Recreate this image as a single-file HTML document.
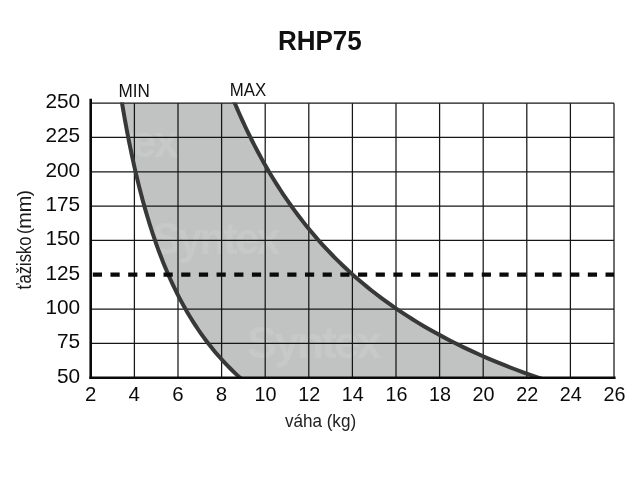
<!DOCTYPE html>
<html><head><meta charset="utf-8"><title>RHP75</title>
<style>
html,body{margin:0;padding:0;background:#fff;}
body{width:640px;height:480px;overflow:hidden;font-family:"Liberation Sans",sans-serif;}
svg{display:block;font-family:"Liberation Sans",sans-serif;will-change:transform;}
</style></head><body>
<svg width="640" height="480" viewBox="0 0 640 480">
<rect width="640" height="480" fill="#ffffff"/>
<defs><clipPath id="cf"><path d="M122.04,103.15 L122.62,106.58 L123.20,110.02 L123.80,113.45 L124.40,116.88 L125.02,120.32 L125.64,123.75 L126.28,127.18 L126.92,130.62 L127.57,134.05 L128.24,137.48 L128.92,140.91 L129.61,144.35 L130.31,147.78 L131.02,151.21 L131.74,154.65 L132.48,158.08 L133.23,161.51 L133.99,164.95 L134.77,168.38 L135.56,171.81 L136.36,175.25 L137.18,178.68 L138.02,182.11 L138.87,185.55 L139.74,188.98 L140.62,192.41 L141.52,195.84 L142.44,199.28 L143.37,202.71 L144.33,206.14 L145.30,209.58 L146.30,213.01 L147.31,216.44 L148.35,219.88 L149.40,223.31 L150.48,226.74 L151.58,230.18 L152.71,233.61 L153.86,237.04 L155.03,240.47 L156.24,243.91 L157.46,247.34 L158.72,250.77 L160.01,254.21 L161.32,257.64 L162.67,261.07 L164.05,264.51 L165.46,267.94 L166.91,271.37 L168.39,274.81 L169.91,278.24 L171.47,281.67 L173.07,285.11 L174.71,288.54 L176.39,291.97 L178.12,295.40 L179.90,298.84 L181.72,302.27 L183.60,305.70 L185.52,309.14 L187.51,312.57 L189.55,316.00 L191.65,319.44 L193.81,322.87 L196.04,326.30 L198.34,329.74 L200.72,333.17 L203.16,336.60 L205.69,340.04 L208.30,343.47 L210.99,346.90 L213.78,350.33 L216.67,353.77 L219.66,357.20 L222.75,360.63 L225.96,364.07 L229.28,367.50 L232.74,370.93 L236.32,374.37 L240.05,377.80 L538.52,377.80 L528.77,374.37 L519.40,370.93 L510.39,367.50 L501.72,364.07 L493.37,360.63 L485.32,357.20 L477.55,353.77 L470.05,350.33 L462.81,346.90 L455.82,343.47 L449.05,340.04 L442.51,336.60 L436.17,333.17 L430.04,329.74 L424.10,326.30 L418.33,322.87 L412.74,319.44 L407.32,316.00 L402.06,312.57 L396.94,309.14 L391.98,305.70 L387.15,302.27 L382.45,298.84 L377.89,295.40 L373.44,291.97 L369.12,288.54 L364.90,285.11 L360.80,281.67 L356.80,278.24 L352.90,274.81 L349.10,271.37 L345.39,267.94 L341.77,264.51 L338.24,261.07 L334.79,257.64 L331.42,254.21 L328.14,250.77 L324.92,247.34 L321.78,243.91 L318.71,240.47 L315.71,237.04 L312.77,233.61 L309.89,230.18 L307.08,226.74 L304.33,223.31 L301.63,219.88 L299.00,216.44 L296.41,213.01 L293.88,209.58 L291.40,206.14 L288.96,202.71 L286.58,199.28 L284.24,195.84 L281.95,192.41 L279.70,188.98 L277.50,185.55 L275.33,182.11 L273.21,178.68 L271.12,175.25 L269.08,171.81 L267.07,168.38 L265.09,164.95 L263.16,161.51 L261.25,158.08 L259.38,154.65 L257.54,151.21 L255.73,147.78 L253.96,144.35 L252.21,140.91 L250.50,137.48 L248.81,134.05 L247.15,130.62 L245.51,127.18 L243.91,123.75 L242.32,120.32 L240.77,116.88 L239.24,113.45 L237.73,110.02 L236.25,106.58 L234.79,103.15 Z"/></clipPath><clipPath id="cr"><rect x="85" y="102.5" width="540" height="276.5"/></clipPath></defs>
<path d="M122.04,103.15 L122.62,106.58 L123.20,110.02 L123.80,113.45 L124.40,116.88 L125.02,120.32 L125.64,123.75 L126.28,127.18 L126.92,130.62 L127.57,134.05 L128.24,137.48 L128.92,140.91 L129.61,144.35 L130.31,147.78 L131.02,151.21 L131.74,154.65 L132.48,158.08 L133.23,161.51 L133.99,164.95 L134.77,168.38 L135.56,171.81 L136.36,175.25 L137.18,178.68 L138.02,182.11 L138.87,185.55 L139.74,188.98 L140.62,192.41 L141.52,195.84 L142.44,199.28 L143.37,202.71 L144.33,206.14 L145.30,209.58 L146.30,213.01 L147.31,216.44 L148.35,219.88 L149.40,223.31 L150.48,226.74 L151.58,230.18 L152.71,233.61 L153.86,237.04 L155.03,240.47 L156.24,243.91 L157.46,247.34 L158.72,250.77 L160.01,254.21 L161.32,257.64 L162.67,261.07 L164.05,264.51 L165.46,267.94 L166.91,271.37 L168.39,274.81 L169.91,278.24 L171.47,281.67 L173.07,285.11 L174.71,288.54 L176.39,291.97 L178.12,295.40 L179.90,298.84 L181.72,302.27 L183.60,305.70 L185.52,309.14 L187.51,312.57 L189.55,316.00 L191.65,319.44 L193.81,322.87 L196.04,326.30 L198.34,329.74 L200.72,333.17 L203.16,336.60 L205.69,340.04 L208.30,343.47 L210.99,346.90 L213.78,350.33 L216.67,353.77 L219.66,357.20 L222.75,360.63 L225.96,364.07 L229.28,367.50 L232.74,370.93 L236.32,374.37 L240.05,377.80 L538.52,377.80 L528.77,374.37 L519.40,370.93 L510.39,367.50 L501.72,364.07 L493.37,360.63 L485.32,357.20 L477.55,353.77 L470.05,350.33 L462.81,346.90 L455.82,343.47 L449.05,340.04 L442.51,336.60 L436.17,333.17 L430.04,329.74 L424.10,326.30 L418.33,322.87 L412.74,319.44 L407.32,316.00 L402.06,312.57 L396.94,309.14 L391.98,305.70 L387.15,302.27 L382.45,298.84 L377.89,295.40 L373.44,291.97 L369.12,288.54 L364.90,285.11 L360.80,281.67 L356.80,278.24 L352.90,274.81 L349.10,271.37 L345.39,267.94 L341.77,264.51 L338.24,261.07 L334.79,257.64 L331.42,254.21 L328.14,250.77 L324.92,247.34 L321.78,243.91 L318.71,240.47 L315.71,237.04 L312.77,233.61 L309.89,230.18 L307.08,226.74 L304.33,223.31 L301.63,219.88 L299.00,216.44 L296.41,213.01 L293.88,209.58 L291.40,206.14 L288.96,202.71 L286.58,199.28 L284.24,195.84 L281.95,192.41 L279.70,188.98 L277.50,185.55 L275.33,182.11 L273.21,178.68 L271.12,175.25 L269.08,171.81 L267.07,168.38 L265.09,164.95 L263.16,161.51 L261.25,158.08 L259.38,154.65 L257.54,151.21 L255.73,147.78 L253.96,144.35 L252.21,140.91 L250.50,137.48 L248.81,134.05 L247.15,130.62 L245.51,127.18 L243.91,123.75 L242.32,120.32 L240.77,116.88 L239.24,113.45 L237.73,110.02 L236.25,106.58 L234.79,103.15 Z" fill="#c0c3c2"/>
<g clip-path="url(#cf)" font-weight="bold" fill="#c7c9c9" font-size="44" letter-spacing="-2.5">
<text x="152" y="254" textLength="126" lengthAdjust="spacingAndGlyphs">Syntex</text>
<text x="247" y="358" textLength="132" lengthAdjust="spacingAndGlyphs">Syntex</text>
<text x="46" y="157" textLength="130" lengthAdjust="spacingAndGlyphs">Syntex</text>
</g>
<g stroke="#161616" stroke-width="1.25" fill="none"><line x1="134.40" y1="103.15" x2="134.40" y2="377.80"/><line x1="178.00" y1="103.15" x2="178.00" y2="377.80"/><line x1="221.60" y1="103.15" x2="221.60" y2="377.80"/><line x1="265.20" y1="103.15" x2="265.20" y2="377.80"/><line x1="308.80" y1="103.15" x2="308.80" y2="377.80"/><line x1="352.40" y1="103.15" x2="352.40" y2="377.80"/><line x1="396.00" y1="103.15" x2="396.00" y2="377.80"/><line x1="439.60" y1="103.15" x2="439.60" y2="377.80"/><line x1="483.20" y1="103.15" x2="483.20" y2="377.80"/><line x1="526.80" y1="103.15" x2="526.80" y2="377.80"/><line x1="570.40" y1="103.15" x2="570.40" y2="377.80"/><line x1="614.00" y1="103.15" x2="614.00" y2="377.80"/><line x1="90.80" y1="103.15" x2="614.00" y2="103.15"/><line x1="90.80" y1="137.48" x2="614.00" y2="137.48"/><line x1="90.80" y1="171.81" x2="614.00" y2="171.81"/><line x1="90.80" y1="206.14" x2="614.00" y2="206.14"/><line x1="90.80" y1="240.47" x2="614.00" y2="240.47"/><line x1="90.80" y1="309.14" x2="614.00" y2="309.14"/><line x1="90.80" y1="343.47" x2="614.00" y2="343.47"/></g>
<path d="M121.14,97.66 L121.72,101.23 L122.32,104.80 L122.92,108.37 L123.54,111.94 L124.16,115.51 L124.80,119.08 L125.44,122.65 L126.10,126.22 L126.76,129.79 L127.44,133.36 L128.13,136.93 L128.84,140.50 L129.55,144.07 L130.28,147.64 L131.02,151.21 L131.77,154.78 L132.54,158.35 L133.32,161.93 L134.11,165.50 L134.92,169.07 L135.75,172.64 L136.59,176.21 L137.45,179.78 L138.32,183.35 L139.21,186.92 L140.12,190.49 L141.05,194.06 L142.00,197.63 L142.96,201.20 L143.95,204.77 L144.95,208.34 L145.98,211.91 L147.03,215.48 L148.10,219.05 L149.19,222.62 L150.31,226.19 L151.45,229.76 L152.62,233.33 L153.81,236.90 L155.03,240.47 L156.28,244.05 L157.56,247.62 L158.87,251.19 L160.22,254.76 L161.59,258.33 L163.00,261.90 L164.44,265.47 L165.92,269.04 L167.44,272.61 L168.99,276.18 L170.59,279.75 L172.23,283.32 L173.92,286.89 L175.65,290.46 L177.42,294.03 L179.25,297.60 L181.13,301.17 L183.06,304.74 L185.06,308.31 L187.11,311.88 L189.22,315.45 L191.39,319.02 L193.64,322.60 L195.95,326.17 L198.34,329.74 L200.81,333.31 L203.36,336.88 L206.00,340.45 L208.72,344.02 L211.55,347.59 L214.47,351.16 L217.49,354.73 L220.63,358.30 L223.89,361.87 L227.27,365.44 L230.79,369.01 L234.44,372.58 L238.24,376.15 L242.20,379.72 L246.33,383.29" fill="none" stroke="#383838" stroke-width="4" clip-path="url(#cr)"/>
<path d="M232.49,97.66 L233.98,101.23 L235.48,104.80 L237.02,108.37 L238.57,111.94 L240.15,115.51 L241.76,119.08 L243.40,122.65 L245.06,126.22 L246.75,129.79 L248.47,133.36 L250.22,136.93 L252.00,140.50 L253.82,144.07 L255.66,147.64 L257.54,151.21 L259.45,154.78 L261.40,158.35 L263.39,161.93 L265.41,165.50 L267.47,169.07 L269.56,172.64 L271.70,176.21 L273.88,179.78 L276.11,183.35 L278.37,186.92 L280.69,190.49 L283.05,194.06 L285.45,197.63 L287.91,201.20 L290.42,204.77 L292.98,208.34 L295.59,211.91 L298.27,215.48 L301.00,219.05 L303.79,222.62 L306.64,226.19 L309.55,229.76 L312.54,233.33 L315.59,236.90 L318.71,240.47 L321.90,244.05 L325.18,247.62 L328.53,251.19 L331.96,254.76 L335.48,258.33 L339.08,261.90 L342.78,265.47 L346.57,269.04 L350.46,272.61 L354.45,276.18 L358.55,279.75 L362.76,283.32 L367.08,286.89 L371.53,290.46 L376.10,294.03 L380.80,297.60 L385.63,301.17 L390.61,304.74 L395.74,308.31 L401.02,311.88 L406.47,315.45 L412.09,319.02 L417.88,322.60 L423.86,326.17 L430.04,329.74 L436.42,333.31 L443.02,336.88 L449.85,340.45 L456.92,344.02 L464.24,347.59 L471.83,351.16 L479.70,354.73 L487.86,358.30 L496.34,361.87 L505.15,365.44 L514.32,369.01 L523.85,372.58 L533.79,376.15 L544.15,379.72 L554.96,383.29" fill="none" stroke="#383838" stroke-width="4" clip-path="url(#cr)"/>
<line x1="92.8" y1="274.6" x2="614" y2="274.6" stroke="#0a0a0a" stroke-width="4.2" stroke-dasharray="9.2 8.48"/>
<line x1="90.7" y1="98.8" x2="90.7" y2="379" stroke="#0a0a0a" stroke-width="2.6"/>
<line x1="89.4" y1="377.8" x2="615.6" y2="377.8" stroke="#0a0a0a" stroke-width="2.5"/>
<g font-size="20.8" fill="#0a0a0a"><text x="80.2" y="107.90" text-anchor="end">250</text><text x="80.2" y="142.23" text-anchor="end">225</text><text x="80.2" y="176.56" text-anchor="end">200</text><text x="80.2" y="210.89" text-anchor="end">175</text><text x="80.2" y="245.22" text-anchor="end">150</text><text x="80.2" y="279.56" text-anchor="end">125</text><text x="80.2" y="313.89" text-anchor="end">100</text><text x="80.2" y="348.22" text-anchor="end">75</text><text x="80.2" y="382.55" text-anchor="end">50</text></g>
<g font-size="20.4" fill="#0a0a0a"><text x="90.60" y="401.2" text-anchor="middle">2</text><text x="134.20" y="401.2" text-anchor="middle">4</text><text x="177.80" y="401.2" text-anchor="middle">6</text><text x="221.40" y="401.2" text-anchor="middle">8</text><text x="265.60" y="401.2" text-anchor="middle" textLength="22" lengthAdjust="spacingAndGlyphs">10</text><text x="309.20" y="401.2" text-anchor="middle" textLength="22" lengthAdjust="spacingAndGlyphs">12</text><text x="352.80" y="401.2" text-anchor="middle" textLength="22" lengthAdjust="spacingAndGlyphs">14</text><text x="396.40" y="401.2" text-anchor="middle" textLength="22" lengthAdjust="spacingAndGlyphs">16</text><text x="440.00" y="401.2" text-anchor="middle" textLength="22" lengthAdjust="spacingAndGlyphs">18</text><text x="483.60" y="401.2" text-anchor="middle" textLength="22" lengthAdjust="spacingAndGlyphs">20</text><text x="527.20" y="401.2" text-anchor="middle" textLength="22" lengthAdjust="spacingAndGlyphs">22</text><text x="570.80" y="401.2" text-anchor="middle" textLength="22" lengthAdjust="spacingAndGlyphs">24</text><text x="614.40" y="401.2" text-anchor="middle" textLength="22" lengthAdjust="spacingAndGlyphs">26</text></g>
<text x="277.9" y="50.2" font-size="27" font-weight="bold" fill="#111" textLength="83.8" lengthAdjust="spacingAndGlyphs">RHP75</text>
<text x="118.5" y="97.2" font-size="17.9" fill="#111" textLength="31.4" lengthAdjust="spacingAndGlyphs">MIN</text>
<text x="229.8" y="95.7" font-size="17.6" fill="#111" textLength="36.4" lengthAdjust="spacingAndGlyphs">MAX</text>
<text x="284.9" y="427.2" font-size="19" fill="#222" textLength="71.2" lengthAdjust="spacingAndGlyphs">váha (kg)</text>
<g transform="translate(31,289.6) rotate(-90)" fill="#1a1a1a">
<text x="0" y="0" font-size="20.4" textLength="53.2" lengthAdjust="spacingAndGlyphs">ťažisko</text>
<text x="55.3" y="-1.3" font-size="18.4">(</text>
<text x="60.8" y="0" font-size="20.4" textLength="33.2" lengthAdjust="spacingAndGlyphs">mm</text>
<text x="93.3" y="-1.3" font-size="18.4">)</text>
</g>
</svg>
</body></html>
